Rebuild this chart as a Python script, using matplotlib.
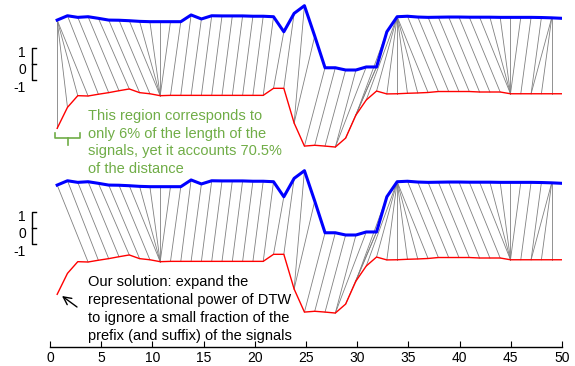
import numpy as np
import matplotlib.pyplot as plt

plt.rcParams['font.family'] = ['Liberation Sans', 'DejaVu Sans']

# signal values (z-normalised units), 50 samples each
blue = [0.62, 0.89, 0.79, 0.83, 0.73, 0.62, 0.61, 0.58, 0.54, 0.52,
        0.52, 0.52, 0.52, 0.94, 0.69, 0.89, 0.88, 0.88, 0.88, 0.86,
        0.86, 0.83, -0.11, 1.04, 1.52, -0.38, -2.36, -2.36, -2.50, -2.50,
        -2.31, -2.31, -0.11, 0.83, 0.86, 0.81, 0.79, 0.80, 0.81, 0.81,
        0.80, 0.80, 0.80, 0.79, 0.79, 0.79, 0.79, 0.78, 0.76, 0.73]
red = [-1.77, -0.46, 0.27, 0.25, 0.36, 0.46, 0.58, 0.69, 0.46, 0.39,
       0.27, 0.29, 0.29, 0.29, 0.29, 0.29, 0.29, 0.29, 0.29, 0.29,
       0.29, 0.73, 0.73, -1.44, -2.88, -2.83, -2.88, -2.94, -2.38, -0.94,
       0.00, 0.56, 0.38, 0.39, 0.42, 0.44, 0.47, 0.53, 0.53, 0.53,
       0.53, 0.50, 0.50, 0.50, 0.39, 0.39, 0.39, 0.39, 0.39, 0.39]

# warping paths (blue index, red index), 1-based
path_top = [(1, 1), (1, 2), (1, 3), (1, 4), (2, 5), (3, 6), (4, 7), (5, 8),
            (6, 9), (7, 10), (8, 11), (9, 11), (10, 11), (11, 11), (12, 11),
            (13, 12), (14, 13), (15, 14), (16, 15), (17, 16), (18, 17),
            (19, 18), (20, 19), (21, 20), (22, 21), (23, 22), (24, 23),
            (25, 24), (26, 24), (27, 25), (28, 26), (29, 27), (30, 28),
            (31, 28), (32, 29), (32, 30), (33, 30), (34, 31), (34, 32),
            (34, 33), (34, 34), (34, 35), (34, 36), (34, 37), (35, 38),
            (36, 39), (37, 40), (38, 41), (39, 42), (40, 43), (41, 44),
            (42, 45), (43, 45), (44, 45), (45, 45), (46, 45), (47, 46),
            (48, 47), (49, 47), (49, 48), (49, 49), (50, 50)]
path_bottom = path_top[3:]

xs = np.linspace(0.7, 50, len(blue))
blue = np.array(blue)
red = np.array(red)

fig = plt.figure(figsize=(5.75, 3.66), dpi=100)
ax = fig.add_axes([50 / 575, 19 / 366, 512 / 575, 347 / 366])
ax.set_xlim(0, 50)
ax.set_ylim(347, 0)

S = 16.0  # pixels per unit


def px(x):
    return (x - 50) / 10.24


def panel(yb, yr, path):
    by = yb - S * blue
    ry = yr - S * red
    for i, j in path:
        ax.plot([xs[i - 1], xs[j - 1]], [by[i - 1], ry[j - 1]],
                color='#808080', lw=0.6, zorder=1)
    ax.plot(xs, ry, color='red', lw=1.0, zorder=2)
    ax.plot(xs, by, color='blue', lw=2.2, zorder=3)


def scalebar(y1):
    y0 = y1 + 16.0
    ym = y1 + 32.5
    ax.plot([px(36), px(32), px(32), px(36)], [y1, y1, ym, ym],
            color='black', lw=1, clip_on=False)
    ax.plot([px(32), px(36)], [y0, y0], color='black', lw=1, clip_on=False)
    for lab, yy in zip(['1', '0', '-1'], [y1 + 5.5, y0 + 6.5, ym + 8]):
        ax.text(px(26), yy, lab, ha='right', va='center', fontsize=10,
                clip_on=False)


panel(30, 100, path_top)
panel(195, 266, path_bottom)
scalebar(47.7)
scalebar(211.7)

green = '#70AD47'
ax.text(px(88), 109, 'This region corresponds to\nonly 6% of the length of the\n'
        'signals, yet it accounts 70.5%\nof the distance',
        color=green, fontsize=10.5, ha='left', va='top', linespacing=1.33)
ax.plot([px(55), px(55), px(80), px(80)], [133, 138, 138, 133],
        color=green, lw=1.2, clip_on=False)
ax.plot([px(67.5), px(67.5)], [138, 145], color=green, lw=1.2)

ax.text(px(88), 275, 'Our solution: expand the\nrepresentational power of DTW\n'
        'to ignore a small fraction of the\nprefix (and suffix) of the signals',
        color='black', fontsize=10.5, ha='left', va='top', linespacing=1.36)
ax.annotate('', xy=(px(62), 296), xytext=(px(77), 307),
            arrowprops=dict(arrowstyle='->', color='black', lw=1,
                            mutation_scale=14, shrinkA=0, shrinkB=0))

for s in ['left', 'right', 'top']:
    ax.spines[s].set_visible(False)
ax.spines['bottom'].set_linewidth(1)
ax.set_yticks([])
ax.set_xticks(range(0, 51, 5))
ax.tick_params(axis='x', direction='in', length=4, labelsize=10, pad=3)

fig.savefig('out.png', dpi=100)
